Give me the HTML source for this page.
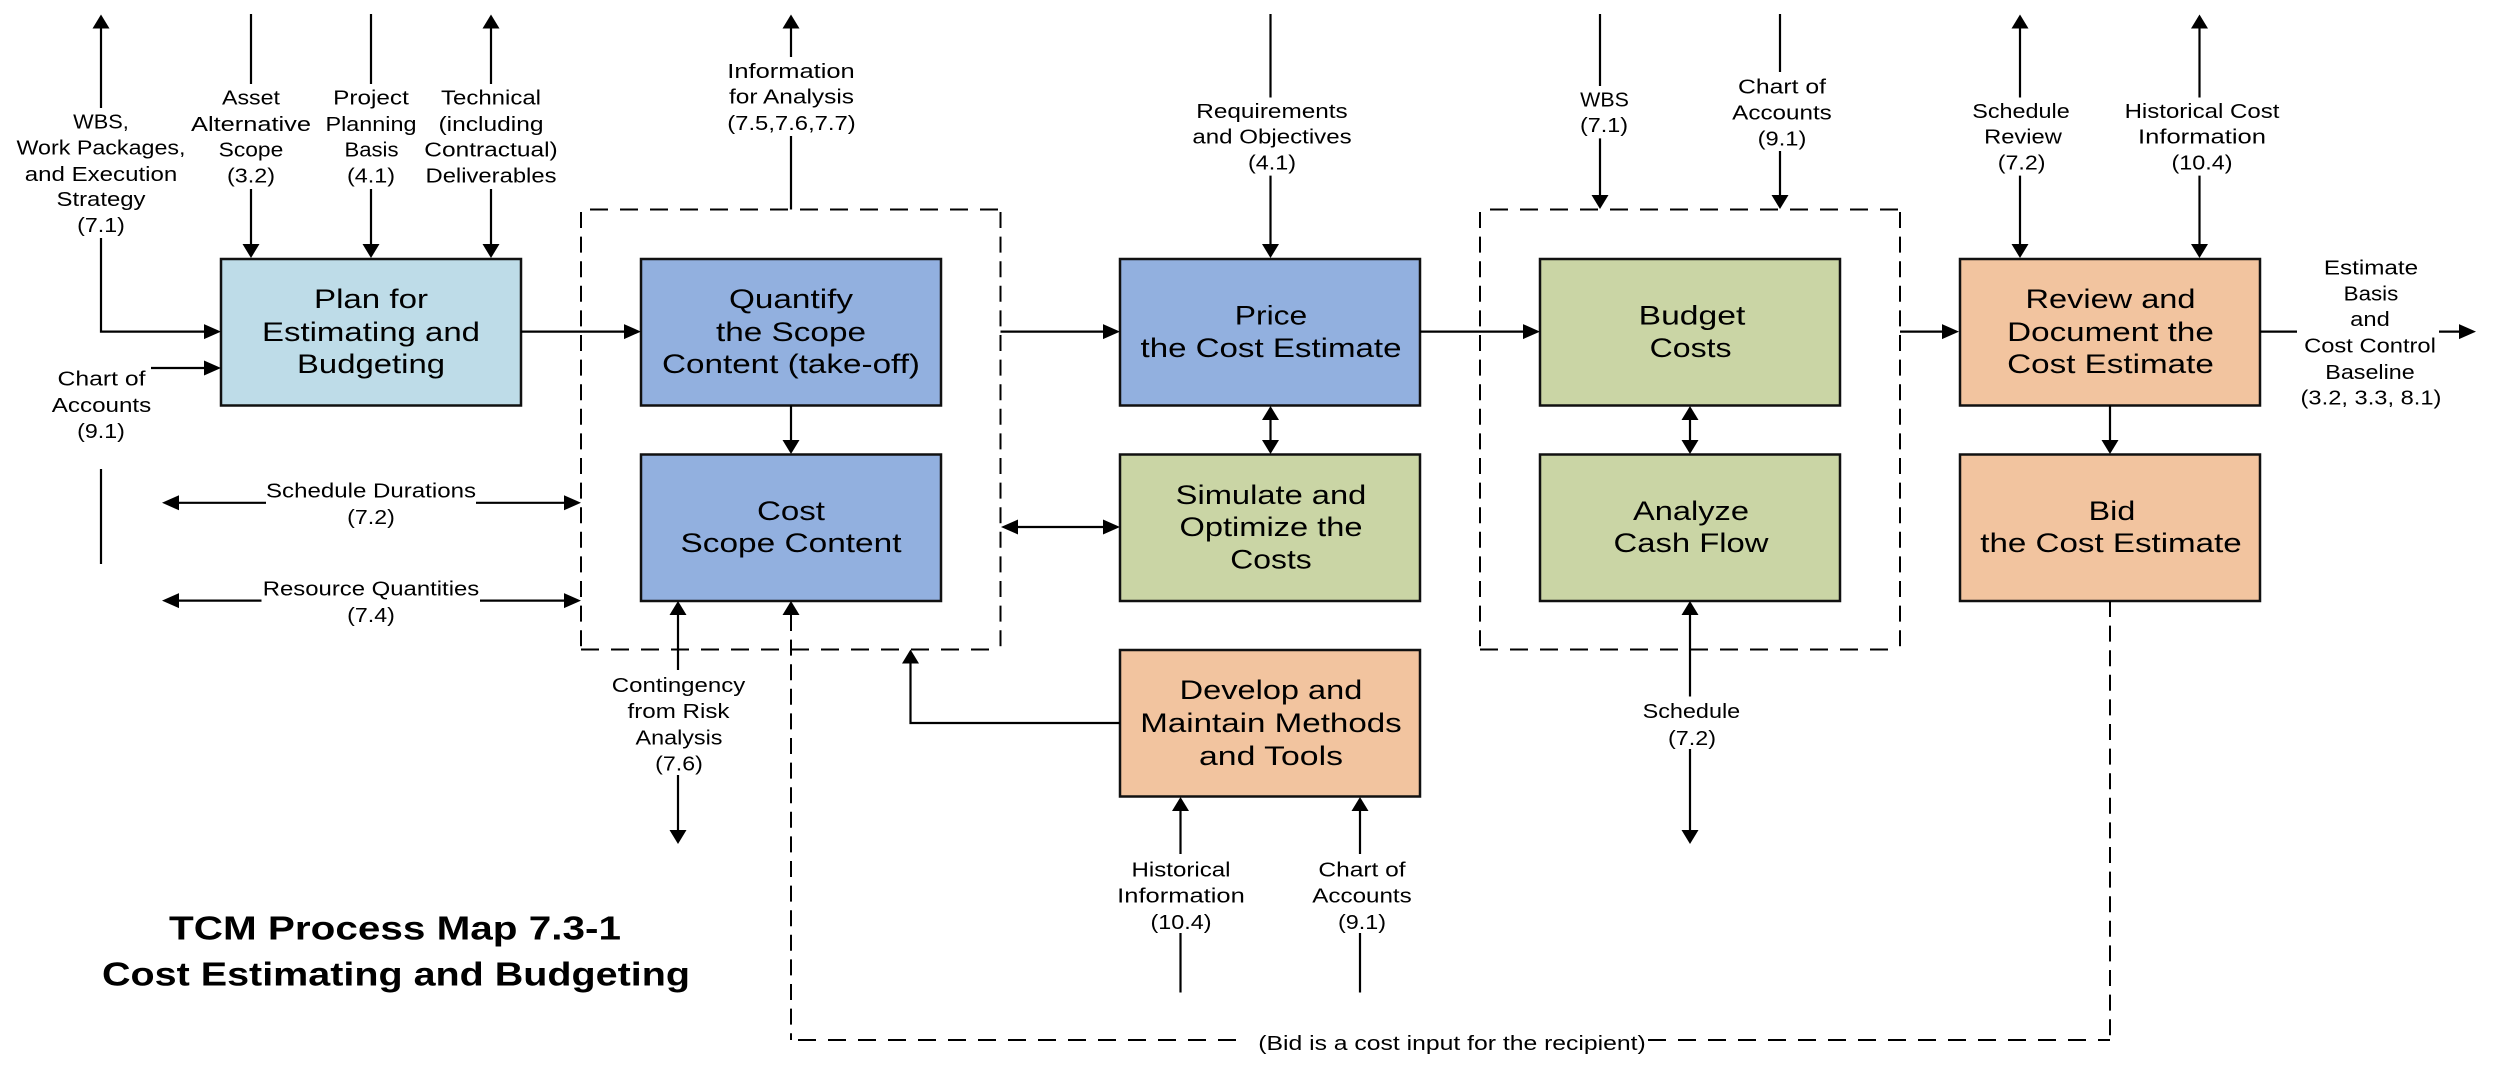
<!DOCTYPE html>
<html lang="en"><head><meta charset="utf-8"><title>TCM Process Map 7.3-1</title>
<style>
html,body{margin:0;padding:0;background:#fff;width:2500px;height:1065px;overflow:hidden}
svg{display:block}
text{text-anchor:middle;fill:#000;font-family:"Liberation Sans",sans-serif}
.s{font-size:20px}
.b{font-size:26.5px}
.t{font-size:33px;font-weight:bold}
.box{stroke:#111;stroke-width:2.5}
.l{stroke:#000;stroke-width:2.2;fill:none}
.dh{stroke:#000;stroke-width:2;fill:none;stroke-dasharray:18 12}
.dv{stroke:#000;stroke-width:2;fill:none;stroke-dasharray:16 8.6}
</style></head><body>
<svg width="2500" height="1065" viewBox="0 0 2500 1065" xmlns="http://www.w3.org/2000/svg" lengthAdjust="spacingAndGlyphs">
<defs>
<path id="u" d="M0 0L-8.5 14H8.5Z"/>
<path id="d" d="M0 0L-8.5 -14H8.5Z"/>
<path id="r" d="M0 0L-17 -7.5V7.5Z"/>
<path id="w" d="M0 0L17 -7.5V7.5Z"/>
</defs>
<rect width="2500" height="1065" fill="#fff"/>

<!-- boxes -->
<rect class="box" x="221" y="259" width="300" height="146.5" fill="#BEDCE8"/>
<rect class="box" x="641" y="259" width="300" height="146.5" fill="#92B0DF"/>
<rect class="box" x="641" y="454.5" width="300" height="146.5" fill="#92B0DF"/>
<rect class="box" x="1120" y="259" width="300" height="146.5" fill="#92B0DF"/>
<rect class="box" x="1120" y="454.5" width="300" height="146.5" fill="#CAD5A5"/>
<rect class="box" x="1120" y="650" width="300" height="146.5" fill="#F2C49F"/>
<rect class="box" x="1540" y="259" width="300" height="146.5" fill="#CAD5A5"/>
<rect class="box" x="1540" y="454.5" width="300" height="146.5" fill="#CAD5A5"/>
<rect class="box" x="1960" y="259" width="300" height="146.5" fill="#F2C49F"/>
<rect class="box" x="1960" y="454.5" width="300" height="146.5" fill="#F2C49F"/>

<!-- dashed containers -->
<path class="dh" d="M590 209.5H1000"/>
<path class="dv" d="M581 212V649"/>
<path class="dv" d="M1000.5 212V649"/>
<path class="dh" d="M581 649.5H1000"/>
<path class="dh" d="M1490 209.5H1900"/>
<path class="dv" d="M1480 212V649"/>
<path class="dv" d="M1900 212V649"/>
<path class="dh" d="M1480 649.5H1900"/>
<!-- bid dashed -->
<path class="dv" d="M791 615V1040"/>
<path class="dh" d="M798 1040H1246"/>
<path class="dh" d="M1648 1040H2110"/>
<path class="dv" d="M2110 601V1040"/>

<!-- solid lines -->
<path class="l" d="M101 25V108M101 238V331.6H205"/>
<path class="l" d="M251 14V84M251 189V245"/>
<path class="l" d="M371 14V84M371 189V245"/>
<path class="l" d="M491 25V84M491 189V245"/>
<path class="l" d="M791 25V57M791 136V209.5"/>
<path class="l" d="M1270.5 14V97.5M1270.5 175.6V245"/>
<path class="l" d="M1600 14V86M1600 138.4V196"/>
<path class="l" d="M1780 14V72M1780 151V196"/>
<path class="l" d="M2020 25V97.5M2020 175.6V245"/>
<path class="l" d="M2199.5 25V97.5M2199.5 175.6V245"/>
<path class="l" d="M151 368H205"/>
<path class="l" d="M101 469V564"/>
<path class="l" d="M175 502.8H266M476 502.8H565"/>
<path class="l" d="M175 600.6H261.5M480 600.6H565"/>
<path class="l" d="M521 331.6H625"/>
<path class="l" d="M791 405.5V441"/>
<path class="l" d="M1000.5 331.6H1104"/>
<path class="l" d="M1420 331.6H1524"/>
<path class="l" d="M1900 331.6H1944"/>
<path class="l" d="M2260 331.6H2297M2439 331.6H2460"/>
<path class="l" d="M2110 405.5V441"/>
<path class="l" d="M1270.5 418V441"/>
<path class="l" d="M1690 418V441"/>
<path class="l" d="M1015 527H1104"/>
<path class="l" d="M678 613V670M678 775V832"/>
<path class="l" d="M1120 723H910.5V662"/>
<path class="l" d="M1180.5 809V854M1180.5 933V992.5"/>
<path class="l" d="M1360 809V854M1360 933V992.5"/>
<path class="l" d="M1690 613V696.5M1690 749V832"/>

<!-- arrowheads -->
<use href="#u" x="101" y="14.5"/><use href="#u" x="491" y="14.5"/><use href="#u" x="791" y="14.5"/><use href="#u" x="2020" y="14.5"/><use href="#u" x="2199.5" y="14.5"/>
<use href="#d" x="251" y="258"/><use href="#d" x="371" y="258"/><use href="#d" x="491" y="258"/>
<use href="#d" x="1270.5" y="258"/><use href="#d" x="1600" y="209"/><use href="#d" x="1780" y="209"/>
<use href="#d" x="2020" y="258"/><use href="#d" x="2199.5" y="258"/>
<use href="#r" x="221" y="331.6"/><use href="#r" x="221" y="368"/>
<use href="#w" x="162" y="502.8"/><use href="#r" x="581" y="502.8"/>
<use href="#w" x="162" y="600.6"/><use href="#r" x="581" y="600.6"/>
<use href="#r" x="641" y="331.6"/><use href="#r" x="1120" y="331.6"/><use href="#r" x="1540" y="331.6"/><use href="#r" x="1959" y="331.6"/><use href="#r" x="2476" y="331.6"/>
<use href="#d" x="791" y="454"/><use href="#d" x="2110" y="454"/>
<use href="#u" x="1270.5" y="406"/><use href="#d" x="1270.5" y="454"/>
<use href="#u" x="1690" y="406"/><use href="#d" x="1690" y="454"/>
<use href="#w" x="1001" y="527"/><use href="#r" x="1120" y="527"/>
<use href="#u" x="678" y="601"/><use href="#u" x="791" y="601"/><use href="#u" x="1690" y="601"/>
<use href="#d" x="678" y="844"/><use href="#d" x="1690" y="844"/>
<use href="#u" x="910.5" y="649.5"/>
<use href="#u" x="1180.5" y="797"/><use href="#u" x="1360" y="797"/>

<!-- box labels -->
<g class="b">
<text x="371" y="308" textLength="114" lengthAdjust="spacingAndGlyphs">Plan for</text>
<text x="371" y="341" textLength="218" lengthAdjust="spacingAndGlyphs">Estimating and</text>
<text x="371" y="373" textLength="148" lengthAdjust="spacingAndGlyphs">Budgeting</text>
<text x="791" y="308" textLength="124" lengthAdjust="spacingAndGlyphs">Quantify</text>
<text x="791" y="341" textLength="150" lengthAdjust="spacingAndGlyphs">the Scope</text>
<text x="791" y="373" textLength="258" lengthAdjust="spacingAndGlyphs">Content (take-off)</text>
<text x="791" y="520" textLength="68" lengthAdjust="spacingAndGlyphs">Cost</text>
<text x="791" y="552" textLength="221" lengthAdjust="spacingAndGlyphs">Scope Content</text>
<text x="1271" y="324.7" textLength="72.5" lengthAdjust="spacingAndGlyphs">Price</text>
<text x="1271" y="357" textLength="261" lengthAdjust="spacingAndGlyphs">the Cost Estimate</text>
<text x="1271" y="504" textLength="190.6" lengthAdjust="spacingAndGlyphs">Simulate and</text>
<text x="1271" y="536" textLength="183" lengthAdjust="spacingAndGlyphs">Optimize the</text>
<text x="1271" y="568.6" textLength="81.5" lengthAdjust="spacingAndGlyphs">Costs</text>
<text x="1271" y="699" textLength="182.6" lengthAdjust="spacingAndGlyphs">Develop and</text>
<text x="1271" y="732" textLength="261.5" lengthAdjust="spacingAndGlyphs">Maintain Methods</text>
<text x="1271" y="764.8" textLength="144" lengthAdjust="spacingAndGlyphs">and Tools</text>
<text x="1692" y="324.7" textLength="106.7" lengthAdjust="spacingAndGlyphs">Budget</text>
<text x="1690.6" y="357" textLength="82" lengthAdjust="spacingAndGlyphs">Costs</text>
<text x="1691" y="520" textLength="116" lengthAdjust="spacingAndGlyphs">Analyze</text>
<text x="1691" y="552" textLength="155" lengthAdjust="spacingAndGlyphs">Cash Flow</text>
<text x="2110.5" y="308" textLength="170" lengthAdjust="spacingAndGlyphs">Review and</text>
<text x="2110.5" y="341" textLength="206.7" lengthAdjust="spacingAndGlyphs">Document the</text>
<text x="2110.5" y="373" textLength="206.7" lengthAdjust="spacingAndGlyphs">Cost Estimate</text>
<text x="2112" y="520" textLength="46.6" lengthAdjust="spacingAndGlyphs">Bid</text>
<text x="2111" y="552" textLength="261.4" lengthAdjust="spacingAndGlyphs">the Cost Estimate</text>
</g>

<!-- connector labels -->
<g class="s">
<text x="101" y="128.4" textLength="55.6" lengthAdjust="spacingAndGlyphs">WBS,</text>
<text x="101" y="154.3" textLength="169" lengthAdjust="spacingAndGlyphs">Work Packages,</text>
<text x="101" y="180.8" textLength="152.5" lengthAdjust="spacingAndGlyphs">and Execution</text>
<text x="101" y="206" textLength="89" lengthAdjust="spacingAndGlyphs">Strategy</text>
<text x="101" y="232" textLength="47.6" lengthAdjust="spacingAndGlyphs">(7.1)</text>

<text x="251" y="104.7" textLength="58" lengthAdjust="spacingAndGlyphs">Asset</text>
<text x="251" y="130.9" textLength="120" lengthAdjust="spacingAndGlyphs">Alternative</text>
<text x="251" y="156.7" textLength="64.6" lengthAdjust="spacingAndGlyphs">Scope</text>
<text x="251" y="182.5" textLength="48" lengthAdjust="spacingAndGlyphs">(3.2)</text>

<text x="371" y="104.7" textLength="75.7" lengthAdjust="spacingAndGlyphs">Project</text>
<text x="371" y="130.9" textLength="91" lengthAdjust="spacingAndGlyphs">Planning</text>
<text x="371.5" y="156.7" textLength="54" lengthAdjust="spacingAndGlyphs">Basis</text>
<text x="371" y="182.5" textLength="48" lengthAdjust="spacingAndGlyphs">(4.1)</text>

<text x="491" y="104.7" textLength="100" lengthAdjust="spacingAndGlyphs">Technical</text>
<text x="491" y="130.9" textLength="105" lengthAdjust="spacingAndGlyphs">(including</text>
<text x="491" y="156.7" textLength="133.4" lengthAdjust="spacingAndGlyphs">Contractual)</text>
<text x="491" y="182.5" textLength="131" lengthAdjust="spacingAndGlyphs">Deliverables</text>

<text x="791" y="77.8" textLength="127.5" lengthAdjust="spacingAndGlyphs">Information</text>
<text x="791.5" y="103.3" textLength="125" lengthAdjust="spacingAndGlyphs">for Analysis</text>
<text x="791.5" y="130" textLength="128.5" lengthAdjust="spacingAndGlyphs">(7.5,7.6,7.7)</text>

<text x="1272" y="118" textLength="151.4" lengthAdjust="spacingAndGlyphs">Requirements</text>
<text x="1272" y="143.6" textLength="159.3" lengthAdjust="spacingAndGlyphs">and Objectives</text>
<text x="1272" y="169.4" textLength="48" lengthAdjust="spacingAndGlyphs">(4.1)</text>

<text x="1604.5" y="106.7" textLength="48.7" lengthAdjust="spacingAndGlyphs">WBS</text>
<text x="1604" y="132" textLength="48" lengthAdjust="spacingAndGlyphs">(7.1)</text>

<text x="1782" y="93.7" textLength="88" lengthAdjust="spacingAndGlyphs">Chart of</text>
<text x="1782" y="119.5" textLength="99.6" lengthAdjust="spacingAndGlyphs">Accounts</text>
<text x="1782" y="145.3" textLength="48.7" lengthAdjust="spacingAndGlyphs">(9.1)</text>

<text x="2021" y="118" textLength="97.5" lengthAdjust="spacingAndGlyphs">Schedule</text>
<text x="2023" y="143.6" textLength="77.7" lengthAdjust="spacingAndGlyphs">Review</text>
<text x="2021.6" y="169.4" textLength="47.7" lengthAdjust="spacingAndGlyphs">(7.2)</text>

<text x="2202" y="118" textLength="154.8" lengthAdjust="spacingAndGlyphs">Historical Cost</text>
<text x="2202" y="143.6" textLength="128" lengthAdjust="spacingAndGlyphs">Information</text>
<text x="2202" y="169.4" textLength="61" lengthAdjust="spacingAndGlyphs">(10.4)</text>

<text x="2371" y="274.5" textLength="94.3" lengthAdjust="spacingAndGlyphs">Estimate</text>
<text x="2371" y="300.6" textLength="54.6" lengthAdjust="spacingAndGlyphs">Basis</text>
<text x="2370" y="326" textLength="39.6" lengthAdjust="spacingAndGlyphs">and</text>
<text x="2370" y="352.3" textLength="131.8" lengthAdjust="spacingAndGlyphs">Cost Control</text>
<text x="2370" y="378.8" textLength="89.4" lengthAdjust="spacingAndGlyphs">Baseline</text>
<text x="2371" y="404.6" textLength="140.9" lengthAdjust="spacingAndGlyphs">(3.2, 3.3, 8.1)</text>

<text x="101.5" y="385.7" textLength="88" lengthAdjust="spacingAndGlyphs">Chart of</text>
<text x="101.5" y="411.8" textLength="99.5" lengthAdjust="spacingAndGlyphs">Accounts</text>
<text x="101" y="438" textLength="47.6" lengthAdjust="spacingAndGlyphs">(9.1)</text>

<text x="371" y="497.6" textLength="210" lengthAdjust="spacingAndGlyphs">Schedule Durations</text>
<text x="371" y="524" textLength="47.6" lengthAdjust="spacingAndGlyphs">(7.2)</text>
<text x="371" y="595.5" textLength="216.5" lengthAdjust="spacingAndGlyphs">Resource Quantities</text>
<text x="371" y="622" textLength="47.6" lengthAdjust="spacingAndGlyphs">(7.4)</text>

<text x="678.5" y="692" textLength="133.4" lengthAdjust="spacingAndGlyphs">Contingency</text>
<text x="678.5" y="718" textLength="102" lengthAdjust="spacingAndGlyphs">from Risk</text>
<text x="679" y="744.3" textLength="87" lengthAdjust="spacingAndGlyphs">Analysis</text>
<text x="679" y="770.6" textLength="47.6" lengthAdjust="spacingAndGlyphs">(7.6)</text>

<text x="1691.4" y="718" textLength="97.6" lengthAdjust="spacingAndGlyphs">Schedule</text>
<text x="1692" y="745" textLength="48" lengthAdjust="spacingAndGlyphs">(7.2)</text>

<text x="1181" y="876.4" textLength="99" lengthAdjust="spacingAndGlyphs">Historical</text>
<text x="1181" y="902.7" textLength="127.6" lengthAdjust="spacingAndGlyphs">Information</text>
<text x="1181" y="929" textLength="61" lengthAdjust="spacingAndGlyphs">(10.4)</text>
<text x="1362" y="876.4" textLength="87.3" lengthAdjust="spacingAndGlyphs">Chart of</text>
<text x="1362" y="902.7" textLength="99.5" lengthAdjust="spacingAndGlyphs">Accounts</text>
<text x="1362" y="929" textLength="48" lengthAdjust="spacingAndGlyphs">(9.1)</text>

<text x="1452" y="1050" textLength="387.5" lengthAdjust="spacingAndGlyphs">(Bid is a cost input for the recipient)</text>
</g>

<!-- title -->
<text class="t" x="395" y="939.5" textLength="452" lengthAdjust="spacingAndGlyphs">TCM Process Map 7.3-1</text>
<text class="t" x="396" y="985.6" textLength="588" lengthAdjust="spacingAndGlyphs">Cost Estimating and Budgeting</text>
</svg>
</body></html>
